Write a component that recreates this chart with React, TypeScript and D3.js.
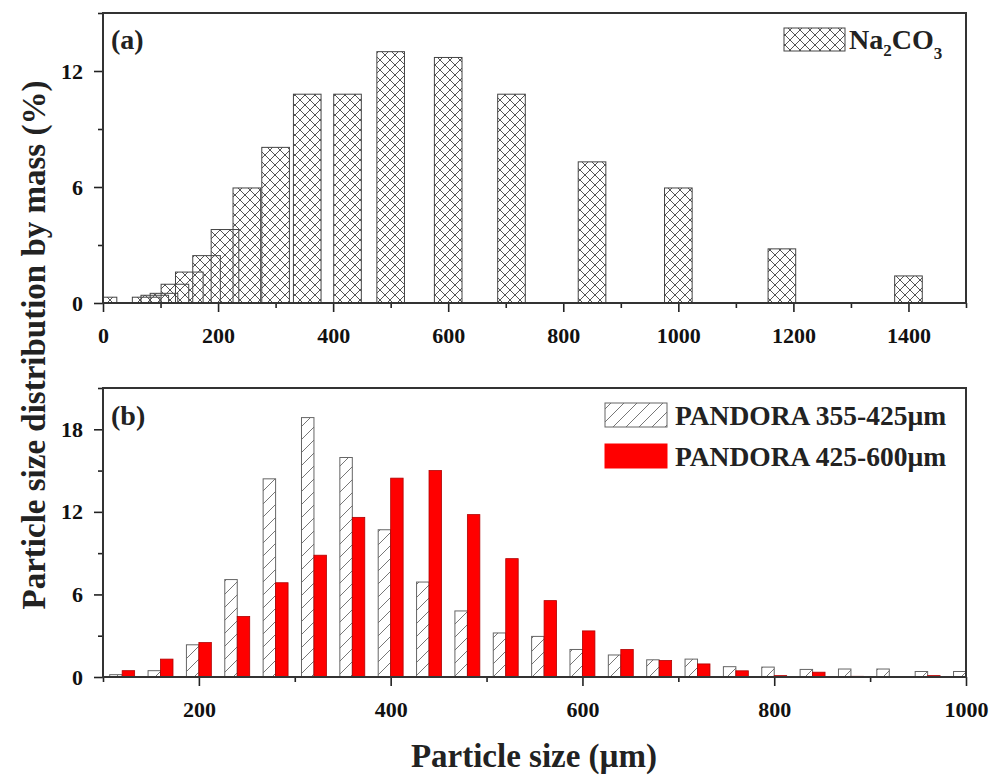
import { useEffect, useRef } from "react";
import * as d3 from "d3";

// panel (a): Na2CO3 sieve sizes (µm) and mass fraction (%)
const sizesA = [0, 75, 90, 106, 125, 150, 180, 212, 250, 300, 355, 425, 500, 600, 710, 850, 1000, 1180, 1400];
const na2co3 = [0.3, 0.3, 0.4, 0.5, 0.97, 1.6, 2.45, 3.8, 5.95, 8.05, 10.8, 10.8, 13.0, 12.7, 10.8, 7.3, 5.95, 2.8, 1.4];

// panel (b): PANDORA fractions
const sizesB = [120, 160, 200, 240, 280, 320, 360, 400, 440, 480, 520, 560, 600, 640, 680, 720, 760, 800, 840, 880, 920, 960, 1000];
const pandoraSmall = [0.17, 0.46, 2.34, 7.08, 14.4, 18.85, 15.95, 10.7, 6.9, 4.8, 3.2, 2.95, 2.0, 1.6, 1.25, 1.3, 0.75, 0.72, 0.55, 0.58, 0.58, 0.4, 0.4];
const pandoraLarge = [0.46, 1.3, 2.5, 4.4, 6.85, 8.85, 11.6, 14.45, 15.0, 11.8, 8.6, 5.55, 3.35, 2.0, 1.2, 0.95, 0.45, 0.1, 0.35, 0.05, 0, 0.1, 0];

const ticksXA = [0, 200, 400, 600, 800, 1000, 1200, 1400];
const minorXA = [100, 300, 500, 700, 900, 1100, 1300, 1500];
const ticksYA = [0, 6, 12];
const minorYA = [3, 9, 15];
const ticksXB = [200, 400, 600, 800, 1000];
const minorXB = [100, 300, 500, 700, 900];
const ticksYB = [0, 6, 12, 18];
const minorYB = [3, 9, 15, 21];

const FONT = "'Times New Roman', 'Liberation Serif', serif";
const AXIS = "#222";
const RED = "#ff0000";

export default function App() {
  const ref = useRef<SVGSVGElement>(null);

  useEffect(() => {
    const svg = d3.select(ref.current);
    svg.selectAll("*").remove();

    const left = 103, right = 966;
    const defs = svg.append("defs");

    const cross = defs.append("pattern").attr("id", "cross")
      .attr("patternUnits", "userSpaceOnUse").attr("width", 10).attr("height", 10);
    cross.append("path").attr("d", "M0,0L10,10M0,10L10,0")
      .attr("stroke", "#555").attr("stroke-width", 1).attr("fill", "none");

    const slash = defs.append("pattern").attr("id", "slash")
      .attr("patternUnits", "userSpaceOnUse").attr("width", 13).attr("height", 13);
    slash.append("path").attr("d", "M-2,15L15,-2M-2,2L2,-2M11,15L15,11")
      .attr("stroke", "#777").attr("stroke-width", 1).attr("fill", "none");

    function frame(top: number, bottom: number, id: string) {
      defs.append("clipPath").attr("id", id).append("rect")
        .attr("x", left).attr("y", top).attr("width", right - left).attr("height", bottom - top);
    }

    function axes(
      x: d3.ScaleLinear<number, number>, y: d3.ScaleLinear<number, number>,
      top: number, bottom: number,
      tx: number[], mx: number[], ty: number[], my: number[]
    ) {
      const styleAx = (ax: any) => {
        ax.select(".domain").remove();
        ax.selectAll(".tick line").attr("stroke", AXIS).attr("stroke-width", 1.6);
        ax.selectAll(".tick text").attr("fill", "#111").attr("font-size", 22)
          .attr("font-weight", "bold").attr("font-family", FONT);
      };
      svg.append("g").attr("transform", `translate(0,${bottom})`)
        .call(d3.axisBottom(x).tickValues(mx).tickSize(5).tickFormat(() => ""))
        .call(styleAx);
      svg.append("g").attr("transform", `translate(0,${bottom})`)
        .call(d3.axisBottom(x).tickValues(tx).tickSize(9).tickPadding(15).tickFormat(d3.format("d")))
        .call(styleAx);
      svg.append("g").attr("transform", `translate(${left},0)`)
        .call(d3.axisLeft(y).tickValues(my).tickSize(5).tickFormat(() => ""))
        .call(styleAx);
      svg.append("g").attr("transform", `translate(${left},0)`)
        .call(d3.axisLeft(y).tickValues(ty).tickSize(9).tickPadding(11).tickFormat(d3.format("d")))
        .call(styleAx);
      svg.append("rect").attr("x", left).attr("y", top)
        .attr("width", right - left).attr("height", bottom - top)
        .attr("fill", "none").attr("stroke", "#333").attr("stroke-width", 2);
    }

    // ---------- panel (a) ----------
    const topA = 13, botA = 303;
    const xA = d3.scaleLinear().domain([0, 1500]).range([left, right]);
    const yA = d3.scaleLinear().domain([0, 15]).range([botA, topA]);
    frame(topA, botA, "clipA");
    const wA = xA(48) - xA(0);
    svg.append("g").attr("clip-path", "url(#clipA)")
      .selectAll("rect").data(sizesA).join("rect")
      .attr("x", (d) => xA(d) - wA / 2)
      .attr("y", (_, i) => yA(na2co3[i]))
      .attr("width", wA)
      .attr("height", (_, i) => botA - yA(na2co3[i]))
      .attr("fill", "url(#cross)").attr("stroke", "#444").attr("stroke-width", 1);
    axes(xA, yA, topA, botA, ticksXA, minorXA, ticksYA, minorYA);

    svg.append("text").attr("x", 111).attr("y", 49)
      .attr("font-family", FONT).attr("font-weight", "bold").attr("font-size", 28)
      .attr("fill", "#222").text("(a)");
    // legend (a)
    svg.append("rect").attr("x", 784).attr("y", 28).attr("width", 61).attr("height", 23)
      .attr("fill", "url(#cross)").attr("stroke", "#444").attr("stroke-width", 1);
    const la = svg.append("text").attr("x", 849).attr("y", 49)
      .attr("font-family", FONT).attr("font-weight", "bold").attr("font-size", 28).attr("fill", "#222");
    la.append("tspan").text("Na");
    la.append("tspan").attr("font-size", 17).attr("dy", 7).text("2");
    la.append("tspan").attr("dy", -7).text("CO");
    la.append("tspan").attr("font-size", 17).attr("dy", 10).text("3");

    // ---------- panel (b) ----------
    const topB = 388, botB = 677;
    const xB = d3.scaleLinear().domain([100, 1000]).range([left, right]);
    const yB = d3.scaleLinear().domain([0, 21]).range([botB, topB]);
    frame(topB, botB, "clipB");
    const wB = xB(113) - xB(100);
    const gB = svg.append("g").attr("clip-path", "url(#clipB)");
    gB.selectAll("rect.s").data(sizesB).join("rect").attr("class", "s")
      .attr("x", (d) => xB(d) - wB)
      .attr("y", (_, i) => yB(pandoraSmall[i]))
      .attr("width", wB)
      .attr("height", (_, i) => botB - yB(pandoraSmall[i]))
      .attr("fill", "url(#slash)").attr("stroke", "#666").attr("stroke-width", 1);
    gB.selectAll("rect.l").data(sizesB).join("rect").attr("class", "l")
      .attr("x", (d) => xB(d))
      .attr("y", (_, i) => yB(pandoraLarge[i]))
      .attr("width", wB)
      .attr("height", (_, i) => botB - yB(pandoraLarge[i]))
      .attr("fill", RED).attr("stroke", "#b00000").attr("stroke-width", 0.8);
    axes(xB, yB, topB, botB, ticksXB, minorXB, ticksYB, minorYB);

    svg.append("text").attr("x", 111).attr("y", 425)
      .attr("font-family", FONT).attr("font-weight", "bold").attr("font-size", 28)
      .attr("fill", "#222").text("(b)");
    // legend (b)
    const legB = [
      { label: "PANDORA 355-425µm", fill: "url(#slash)", stroke: "#666", y: 403 },
      { label: "PANDORA 425-600µm", fill: RED, stroke: RED, y: 444 },
    ];
    legB.forEach((l) => {
      svg.append("rect").attr("x", 605).attr("y", l.y).attr("width", 62).attr("height", 24)
        .attr("fill", l.fill).attr("stroke", l.stroke).attr("stroke-width", 1);
      svg.append("text").attr("x", 675).attr("y", l.y + 22)
        .attr("font-family", FONT).attr("font-weight", "bold").attr("font-size", 27.5)
        .attr("fill", "#222").text(l.label);
    });

    // axis titles
    svg.append("text").attr("x", 534).attr("y", 767).attr("text-anchor", "middle")
      .attr("font-family", FONT).attr("font-weight", "bold").attr("font-size", 33)
      .attr("fill", "#222").text("Particle size (µm)");
    svg.append("text").attr("transform", "translate(45,345) rotate(-90)").attr("text-anchor", "middle")
      .attr("font-family", FONT).attr("font-weight", "bold").attr("font-size", 33)
      .attr("fill", "#222").text("Particle size distribution by mass (%)");
  }, []);

  return (
    <svg ref={ref} width={996} height={780}
      style={{ position: "absolute", left: 0, top: 0, background: "#fff" }} />
  );
}
